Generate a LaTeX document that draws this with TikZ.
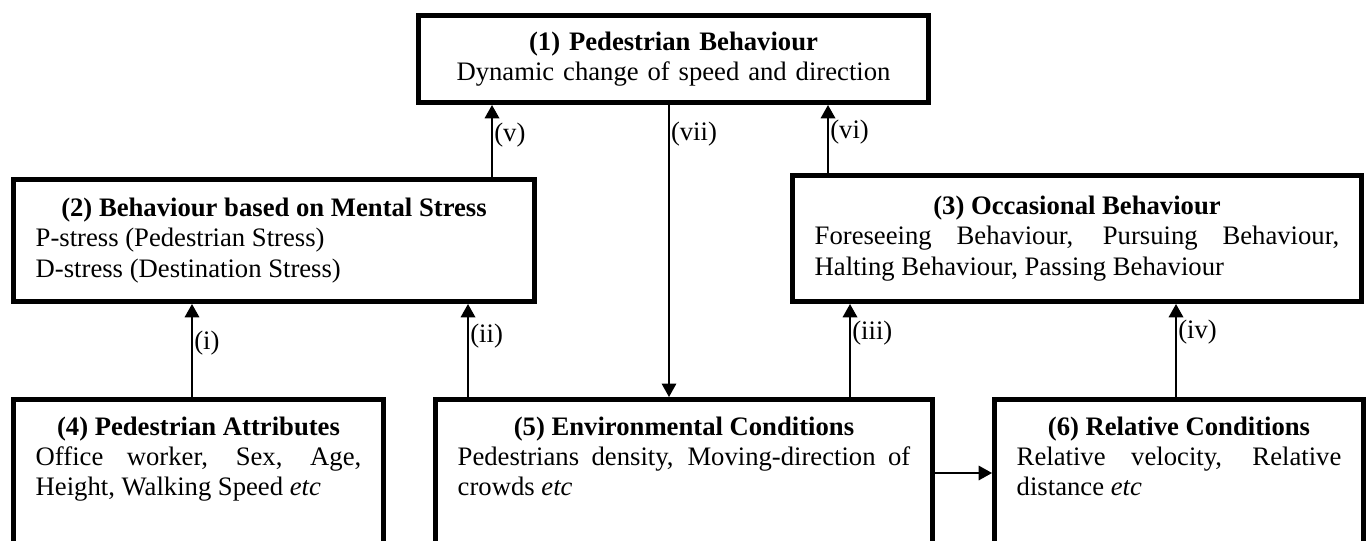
\documentclass[tikz,border=0pt]{standalone}
\usepackage{fontspec}
\setmainfont{Liberation Serif}
\usepackage{tikz}
\usetikzlibrary{arrows.meta}
\tikzset{box/.style={rectangle,draw=black,line width=2.25pt,inner xsep=10pt,anchor=north west,align=justify,font=\fontsize{12}{13.6}\selectfont}}
\tikzset{factor/.style={box,inner ysep=7.6pt,text height=8.5pt,text depth=90pt}}
\tikzset{link/.style={black,line width=0.9pt,-{Triangle[width=6.5pt,length=6pt]}}}
\tikzset{lbl/.style={right,inner sep=0.6pt,font=\fontsize{12}{13.6}\selectfont}}
\newcommand{\boxtitle}[1]{\hspace*{\fill}\textbf{#1}\hspace*{\fill}}

\begin{document}
\begin{tikzpicture}[x=0.45pt,y=-0.45pt]
  \useasboundingbox (0,0) rectangle (1370,540);

  % Behaviour boxes
  \node[box,align=center,text width=209.5pt,minimum height=39.15pt] (b1) at (416,13)
    {\textbf{(1) Pedestrian Behaviour}\\ Dynamic change of speed and direction};
  \node[box,text width=214.45pt,minimum height=54.9pt] (b2) at (11,177)
    {\boxtitle{(2) Behaviour based on Mental Stress}\\
     P-stress (Pedestrian Stress)\\ D-stress (Destination Stress)};
  \node[box,text width=236.05pt,minimum height=56.7pt] (b3) at (790,173)
    {\boxtitle{(3) Occasional Behaviour}\\
     Foreseeing Behaviour, Pursuing Behaviour,\linebreak Halting Behaviour, Passing Behaviour};

  % Condition boxes
  \node[factor,text width=146.5pt] (b4) at (11,397)
    {\boxtitle{(4) Pedestrian Attributes}\\
     Office worker, Sex, Age,\linebreak Height, Walking Speed \textit{etc}};
  \node[factor,text width=203.65pt] (b5) at (433,397)
    {\boxtitle{(5) Environmental Conditions}\\
     Pedestrians density, Moving-direction of\linebreak crowds \textit{etc}};
  \node[factor,text width=146.05pt] (b6) at (992,397)
    {\boxtitle{(6) Relative Conditions}\\
     Relative velocity, Relative\linebreak distance \textit{etc}};

  % Links
  \draw[link] (b2.north -| 492,0) -- node[lbl,pos=0.58]{(v)} (b1.south -| 492,0);
  \draw[link,line width=0.6pt] (b1.south -| 669,0) -- node[lbl,pos=0.1]{(vii)} (b5.north -| 669,0);
  \draw[link] (b3.north -| 828,0) -- node[lbl,pos=0.6]{(vi)} (b1.south -| 828,0);
  \draw[link] (b4.north -| 192,0) -- node[lbl,pos=0.58]{(i)} (b2.south -| 192,0);
  \draw[link] (b5.north -| 468,0) -- node[lbl,pos=0.65]{(ii)} (b2.south -| 468,0);
  \draw[link] (b5.north -| 850,0) -- node[lbl,pos=0.69]{(iii)} (b3.south -| 850,0);
  \draw[link] (b6.north -| 1176,0) -- node[lbl,pos=0.7]{(iv)} (b3.south -| 1176,0);
  \draw[link,line width=0.8pt] (b5.east |- 0,473) -- (b6.west |- 0,473);
\end{tikzpicture}
\end{document}
